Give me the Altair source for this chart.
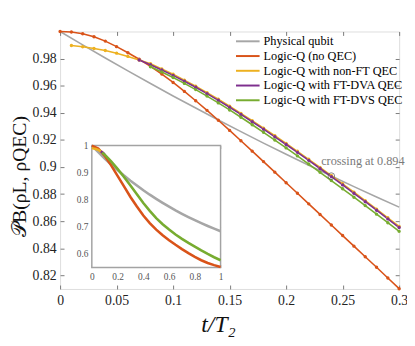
import altair as alt
import pandas as pd

# ---------------- data ----------------
NAMES = ["Physical qubit", "Logic-Q (no QEC)", "Logic-Q with non-FT QEC",
         "Logic-Q with FT-DVA QEC", "Logic-Q with FT-DVS QEC"]
COLORS = ["#A6A6A6", "#D95319", "#EDB120", "#7E2F8E", "#77AC30"]

T_MAIN = [0.00, 0.01, 0.02, 0.03, 0.04, 0.05, 0.06, 0.07, 0.08, 0.09, 0.10,
          0.11, 0.12, 0.13, 0.14, 0.15, 0.16, 0.17, 0.18, 0.19, 0.20,
          0.21, 0.22, 0.23, 0.24, 0.25, 0.26, 0.27, 0.28, 0.29, 0.30]

T_GRAY = [0.00, 0.02, 0.04, 0.06, 0.08, 0.10, 0.12, 0.14, 0.16, 0.18, 0.20,
          0.22, 0.24, 0.26, 0.28, 0.30]
PHYSICAL = [1.0000, 0.9901, 0.9804, 0.9709, 0.9616, 0.9524, 0.9435, 0.9347,
            0.9261, 0.9176, 0.9094, 0.9013, 0.8933, 0.8855, 0.8779, 0.8704]

NO_QEC = [1.0000, 0.9996, 0.9983, 0.9961, 0.9929, 0.9888, 0.9843, 0.9795,
          0.9743, 0.9686, 0.9624, 0.9558, 0.9489, 0.9418, 0.9345, 0.9270,
          0.9194, 0.9117, 0.9040, 0.8962, 0.8884, 0.8806, 0.8728, 0.8650,
          0.8572, 0.8494, 0.8416, 0.8338, 0.8260, 0.8181, 0.8102]

T_NONFT = T_MAIN[1:]
NONFT = [0.9897, 0.9887, 0.9875, 0.9860, 0.9840, 0.9816, 0.9790, 0.9762,
         0.9724, 0.9684, 0.9641, 0.9596, 0.9549, 0.9500, 0.9449, 0.9396,
         0.9342, 0.9287, 0.9231, 0.9174, 0.9116, 0.9057, 0.8997, 0.8937,
         0.8876, 0.8814, 0.8752, 0.8689, 0.8625, 0.8561]

T_DVA = T_MAIN[7:]
DVA = [0.9790, 0.9754, 0.9716, 0.9676, 0.9633, 0.9588, 0.9541, 0.9492,
       0.9441, 0.9388, 0.9334, 0.9279, 0.9223, 0.9166, 0.9108, 0.9049,
       0.8989, 0.8929, 0.8868, 0.8806, 0.8744, 0.8681, 0.8617, 0.8553]

T_DVS = T_MAIN[8:]
DVS = [0.9740, 0.9701, 0.9660, 0.9617, 0.9571, 0.9523, 0.9473, 0.9421,
       0.9367, 0.9312, 0.9256, 0.9199, 0.9141, 0.9082, 0.9022, 0.8961,
       0.8900, 0.8839, 0.8777, 0.8715, 0.8652, 0.8589, 0.8525]

X_TICKS = [0, 0.05, 0.1, 0.15, 0.2, 0.25, 0.3]
Y_TICKS = [0.82, 0.84, 0.86, 0.88, 0.9, 0.92, 0.94, 0.96, 0.98]

CROSS_T = [0.24]
CROSS_V = [0.8933]
CROSS_LABEL = ["crossing at 0.894"]
LABEL_T = [0.231]
LABEL_V = [0.9042]

# inset (t up to 1)
T_INSET = [0.0, 0.05, 0.1, 0.15, 0.2, 0.25, 0.3, 0.35, 0.4, 0.45, 0.5,
           0.55, 0.6, 0.65, 0.7, 0.75, 0.8, 0.85, 0.9, 0.95, 1.0]
IN_PHYS = [1.0000, 0.9756, 0.9524, 0.9304, 0.9094, 0.8894, 0.8704, 0.8524,
           0.8352, 0.8188, 0.8033, 0.7885, 0.7744, 0.7610, 0.7483, 0.7362,
           0.7247, 0.7137, 0.7033, 0.6934, 0.6839]
IN_NOQEC = [1.0000, 0.9888, 0.9624, 0.9270, 0.8884, 0.8494, 0.8102, 0.775,
            0.742, 0.714, 0.690, 0.669, 0.651, 0.634, 0.618, 0.603, 0.589,
            0.577, 0.567, 0.559, 0.552]
T_IN_NONFT = [0.0, 0.01, 0.03, 0.05, 0.07, 0.09]
IN_NONFT = [0.991, 0.9897, 0.9875, 0.9840, 0.9790, 0.9718]
T_IN_DVA = [0.07, 0.08, 0.09, 0.1]
IN_DVA = [0.9790, 0.9754, 0.9716, 0.9676]
T_IN_DVS = [0.08, 0.1, 0.15, 0.2, 0.25, 0.3, 0.35, 0.4, 0.45, 0.5, 0.55,
            0.6, 0.65, 0.7, 0.75, 0.8, 0.85, 0.9, 0.95, 1.0]
IN_DVS = [0.974, 0.966, 0.942, 0.914, 0.884, 0.8525, 0.820, 0.788, 0.759,
          0.732, 0.710, 0.690, 0.672, 0.656, 0.641, 0.627, 0.613, 0.600,
          0.588, 0.577]
INSET_X_TICKS = [0, 0.2, 0.4, 0.6, 0.8, 1]
INSET_Y_TICKS = [0.6, 0.7, 0.8, 0.9, 1]

# ---------------- tables ----------------
def table(t, v, name):
    return pd.DataFrame({"t": t, "v": v, "series": name})

main_df = pd.concat([
    table(T_GRAY, PHYSICAL, NAMES[0]),
    table(T_MAIN, NO_QEC, NAMES[1]),
    table(T_NONFT, NONFT, NAMES[2]),
    table(T_DVA, DVA, NAMES[3]),
    table(T_DVS, DVS, NAMES[4]),
], ignore_index=True)
pts_df = main_df[main_df["series"] != NAMES[0]]

inset_df = pd.concat([
    table(T_INSET, IN_PHYS, NAMES[0]),
    table(T_INSET, IN_NOQEC, NAMES[1]),
    table(T_IN_NONFT, IN_NONFT, NAMES[2]),
    table(T_IN_DVA, IN_DVA, NAMES[3]),
    table(T_IN_DVS, IN_DVS, NAMES[4]),
], ignore_index=True)

cross_df = pd.DataFrame({"t": CROSS_T, "v": CROSS_V})
label_df = pd.DataFrame({"t": LABEL_T, "v": LABEL_V, "label": CROSS_LABEL})
frame_df = pd.DataFrame({"x0": [0.0], "x1": [1.0], "y0": [0.55], "y1": [1.0]})

# ---------------- styling ----------------
FONT = "Liberation Serif, Times New Roman, DejaVu Serif, serif"
AX = "#7a7a7a"
W, H = 345, 262

color_scale = alt.Scale(domain=NAMES, range=COLORS)
xs = alt.Scale(domain=[0, 0.3], nice=False, zero=False)
ys = alt.Scale(domain=[0.81, 1.0], nice=False, zero=False)

# inset occupies a sub-rectangle of the plot area
xi = alt.Scale(domain=[0, 1], nice=False, zero=False, range=[32.3, 163.3])
yi = alt.Scale(domain=[0.55, 1.0], nice=False, zero=False, range=[240.2, 116.1])

common = dict(domain=False, grid=False, tickColor=AX, tickWidth=1,
              labelFont=FONT, labelColor="#222")

x_bottom = alt.Axis(orient="bottom", values=X_TICKS, format="~g", offset=-4,
                    tickSize=4, labelPadding=5, labelFlush=False,
                    labelOverlap=False, labelFontSize=14,
                    title="t/T₂", titleFont=FONT, titleFontSize=24,
                    titleFontStyle="italic", titleFontWeight="normal",
                    titleColor="#111", titleX=160.7, titleY=40,
                    titleAlign="center", titleBaseline="middle", **common)
y_left = alt.Axis(orient="left", values=Y_TICKS, format="~g", offset=-4,
                  tickSize=4, labelPadding=4, labelFlush=False,
                  labelOverlap=False, labelFontSize=14,
                  title="𝒫B(ρL, ρQEC)", titleFont=FONT, titleFontSize=20,
                  titleFontWeight="normal", titleColor="#111",
                  titleAngle=270, titleX=-45, titleY=147,
                  titleAlign="center", titleBaseline="middle", **common)
x_top = alt.Axis(orient="top", values=X_TICKS, offset=-4, tickSize=4,
                 labels=False, title=None, domain=False, grid=False,
                 tickColor=AX)
y_right = alt.Axis(orient="right", values=Y_TICKS, offset=-4, tickSize=4,
                   labels=False, title=None, domain=False, grid=False,
                   tickColor=AX)

ITK = 3
xi_bottom = alt.Axis(orient="bottom", values=INSET_X_TICKS, format="~g",
                     offset=240.2 - ITK - H, tickSize=ITK, labelPadding=4,
                     labelFlush=False, labelOverlap=False, labelFontSize=9.5,
                     title=None, domain=False, grid=False, tickColor="#999",
                     labelFont=FONT, labelColor="#555")
yi_left = alt.Axis(orient="left", values=INSET_Y_TICKS, format="~g",
                   offset=-(32.3 + ITK), tickSize=ITK, labelPadding=4,
                   labelFlush=False, labelOverlap=False, labelFontSize=9.5,
                   title=None, domain=False, grid=False, tickColor="#999",
                   labelFont=FONT, labelColor="#555")
xi_top = alt.Axis(orient="top", values=INSET_X_TICKS, offset=-(116.1 + ITK),
                  tickSize=ITK, labels=False, title=None, domain=False,
                  grid=False, tickColor="#999")
yi_right = alt.Axis(orient="right", values=INSET_Y_TICKS,
                    offset=163.3 - ITK - W, tickSize=ITK, labels=False,
                    title=None, domain=False, grid=False, tickColor="#999")

legend = alt.Legend(orient="none", legendX=184, legendY=3, title=None,
                    symbolType="M-2,0H2", symbolSize=144, symbolStrokeWidth=2,
                    labelFont=FONT, labelFontSize=12.5, labelColor="black",
                    labelOffset=9, rowPadding=1, padding=0)

# ---------------- main layers ----------------
lines = alt.Chart(main_df).mark_line(strokeWidth=1.6).encode(
    x=alt.X("t:Q", scale=xs, axis=x_bottom),
    y=alt.Y("v:Q", scale=ys, axis=y_left),
    color=alt.Color("series:N", scale=color_scale, legend=legend),
    detail="series:N",
)
points = alt.Chart(pts_df).mark_point(filled=True, size=12, opacity=1).encode(
    x=alt.X("t:Q", scale=xs, axis=None),
    y=alt.Y("v:Q", scale=ys, axis=None),
    color=alt.Color("series:N", scale=color_scale, legend=None),
)
mirror = alt.Chart(main_df).mark_line(opacity=0).encode(
    x=alt.X("t:Q", scale=xs, axis=x_top),
    y=alt.Y("v:Q", scale=ys, axis=y_right),
)
cross = alt.Chart(cross_df).mark_point(shape="circle", filled=False,
                                       color="#555", size=45,
                                       strokeWidth=1).encode(
    x=alt.X("t:Q", scale=xs, axis=None),
    y=alt.Y("v:Q", scale=ys, axis=None),
)
label = alt.Chart(label_df).mark_text(align="left", baseline="middle",
                                      font=FONT, fontSize=12.5,
                                      color="#7a7a7a").encode(
    x=alt.X("t:Q", scale=xs, axis=None),
    y=alt.Y("v:Q", scale=ys, axis=None),
    text="label:N",
)
main = alt.layer(lines, points, mirror, cross, label).resolve_axis(
    x="independent", y="independent")

# ---------------- inset layers ----------------
frame = alt.Chart(frame_df).mark_rect(fill="white", stroke="#a3a3a3",
                                      strokeWidth=1.5).encode(
    x=alt.X("x0:Q", scale=xi, axis=xi_bottom),
    x2="x1:Q",
    y=alt.Y("y0:Q", scale=yi, axis=yi_left),
    y2="y1:Q",
)
ilines = alt.Chart(inset_df).mark_line(strokeWidth=2.6).encode(
    x=alt.X("t:Q", scale=xi, axis=None),
    y=alt.Y("v:Q", scale=yi, axis=None),
    color=alt.Color("series:N", scale=color_scale, legend=None),
    detail="series:N",
)
imirror = alt.Chart(inset_df).mark_line(opacity=0).encode(
    x=alt.X("t:Q", scale=xi, axis=xi_top),
    y=alt.Y("v:Q", scale=yi, axis=yi_right),
)
inset = alt.layer(frame, ilines, imirror).resolve_axis(
    x="independent", y="independent")

chart = alt.layer(main, inset).resolve_scale(
    x="independent", y="independent"
).properties(
    width=W, height=H,
    autosize=alt.AutoSizeParams(type="none"),
    padding={"left": 53, "top": 21, "right": 8, "bottom": 47},
).configure_view(stroke=AX, strokeWidth=1).configure(background="white")

chart.save("out.html", embed_options={"renderer": "svg", "actions": False})
